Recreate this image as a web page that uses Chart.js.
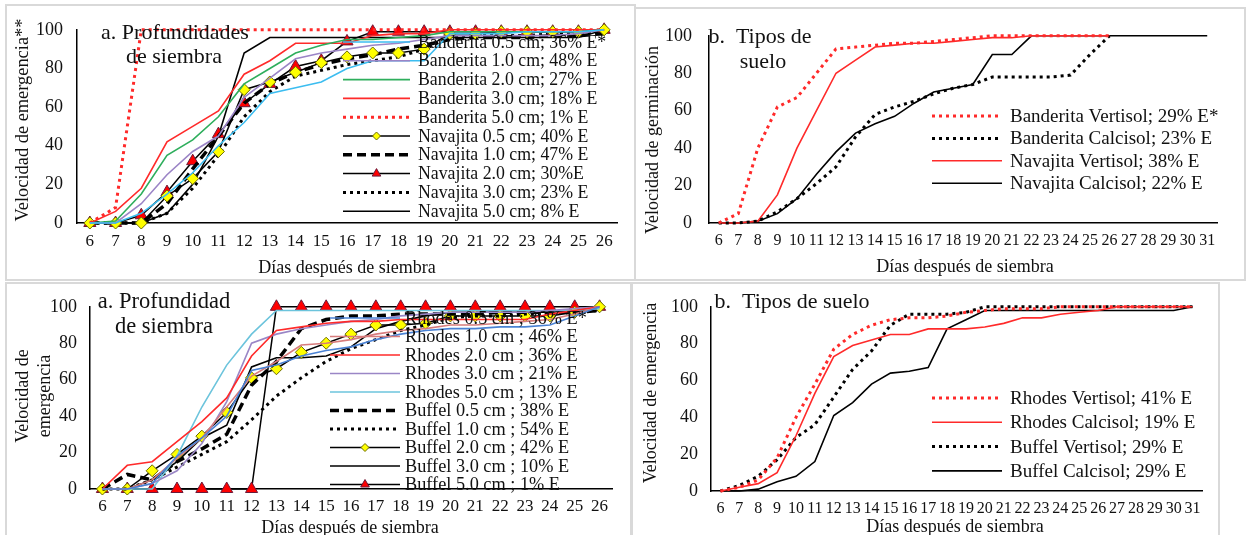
<!DOCTYPE html>
<html>
<head>
<meta charset="utf-8">
<script src="https://cdn.jsdelivr.net/npm/chart.js@4.4.0/dist/chart.umd.min.js"></script>
<style>
  body { margin: 0; background: #fff; width: 1246px; height: 535px; overflow: hidden; position: relative; }
  .panel { position: absolute; }
  .panel canvas { position: absolute; left: 0; top: 0; }
  .frame { position: absolute; border: 2px solid #d9d9d9; box-sizing: border-box; pointer-events: none; }
</style>
</head>
<body>
<div class="panel" style="left:6px;top:5px;width:628px;height:274px"><canvas id="c1" width="628" height="274"></canvas></div>
<div class="panel" style="left:636px;top:8px;width:608px;height:271px"><canvas id="c2" width="608" height="271"></canvas></div>
<div class="panel" style="left:6px;top:283px;width:624px;height:252px"><canvas id="c3" width="624" height="252"></canvas></div>
<div class="panel" style="left:632px;top:283px;width:586px;height:252px"><canvas id="c4" width="586" height="252"></canvas></div>
<div class="frame" style="left:5px;top:4px;width:631px;height:277px"></div>
<div class="frame" style="left:634px;top:7px;width:612px;height:274px"></div>
<div class="frame" style="left:5px;top:282px;width:627px;height:260px"></div>
<div class="frame" style="left:631px;top:282px;width:589px;height:260px"></div>
<script>
// --- days after sowing ---
const daysShort = ['6','7','8','9','10','11','12','13','14','15','16','17','18','19','20','21','22','23','24','25','26'];
const daysLong = ['6','7','8','9','10','11','12','13','14','15','16','17','18','19','20','21','22','23','24','25','26','27','28','29','30','31'];
const yTicks = [0, 20, 40, 60, 80, 100];

// --- a. Profundidades de siembra (Banderita / Navajita) ---
const banderita05 = [0,0,5,15,26,40,52,67,70,73,80,84,84,84,98,98,98,99,99,99,100];
const banderita10 = [0,0,10,25,37,45,65,75,85,88,90,92,93,95,97,97,97,97,97,98,100];
const banderita20 = [0,1,15,35,43,55,72,80,88,92,95,95,96,97,99,99,99,99,99,99,100];
const banderita30 = [0,6,18,42,50,58,77,84,93,93,93,97,98,98,100,100,100,100,100,100,100];
const banderita50 = [0,8,100,100,100,100,100,100,100,100,100,100,100,100,100,100,100,100,100,100,100];
const navajita05 = [0,0,0,14,23,37,69,73,78,83,86,88,88,90,98,98,99,99,99,99,100];
const navajita10 = [0,0,0,10,28,45,62,72,78,82,85,87,90,92,95,96,96,96,97,97,98];
const navajita20 = [0,0,4,16,32,46,62,72,81,84,94,99,99,99,99,99,99,99,99,99,100];
const navajita30 = [0,0,0,5,18,35,55,68,76,79,82,84,86,90,96,97,97,97,98,98,99];
const navajita50 = [0,0,0,5,20,45,88,96,96,96,96,96,96,96,96,96,96,96,96,96,100];

// --- b. Tipos de suelo (Banderita / Navajita) ---
const bandVertisol = [0,5,40,62,67,80,93,94,95,96,96,97,98,99,100,100,100,100,100,100,100,null,null,null,null,null];
const bandCalcisol = [0,0,1,6,13,21,30,46,58,62,65,69,72,74,78,78,78,78,79,90,100,null,null,null,null,null];
const navVertisol = [0,0,1,15,40,60,80,87,94,95,96,96,97,98,99,99,100,100,100,100,100,null,null,null,null,null];
const navCalcisol = [0,0,1,5,13,26,38,48,53,57,64,70,72,74,90,90,100,100,100,100,100,100,100,100,100,100];

// --- a. Profundidad de siembra (Rhodes / Buffel) ---
const rhodes05 = [0,0,3,18,28,40,65,68,73,76,78,82,85,87,88,88,89,89,90,95,100];
const rhodes10 = [0,0,5,17,28,45,62,70,79,80,82,85,87,88,90,90,91,92,93,96,100];
const rhodes20 = [0,13,15,26,37,50,73,87,89,91,92,92,93,93,93,93,93,93,96,98,100];
const rhodes30 = [0,0,3,10,25,48,80,85,88,90,92,93,95,96,97,97,97,97,98,99,100];
const rhodes50 = [0,0,0,18,45,68,85,98,98,98,98,98,98,98,98,98,98,98,98,98,99];
const buffel05 = [0,8,5,15,22,30,57,70,88,93,95,95,96,96,96,96,97,97,97,97,98];
const buffel10 = [0,0,5,12,19,26,38,51,61,70,77,82,87,90,94,95,95,96,96,97,98];
const buffel20 = [0,0,10,19,29,42,61,66,75,80,85,90,90,91,95,95,95,95,95,97,100];
const buffel30 = [0,0,5,15,28,35,67,72,72,73,78,88,92,95,97,97,97,97,97,98,100];
const buffel50 = [0,0,0,0,0,0,0,100,100,100,100,100,100,100,100,100,100,100,100,100,100];

// --- b. Tipos de suelo (Rhodes / Buffel) ---
const rhodesVertisol = [0,2,6,18,40,58,77,85,90,93,94,94,95,97,98,99,99,99,100,100,100,100,100,100,100,100];
const rhodesCalcisol = [0,2,4,10,30,53,73,79,82,85,85,88,88,88,89,91,94,94,96,97,98,100,100,100,100,100];
const buffelVertisol = [0,3,8,17,29,36,51,66,76,90,96,96,96,97,100,100,100,100,100,100,100,100,100,100,100,100];
const buffelCalcisol = [0,0,1,5,8,16,41,48,58,64,65,67,88,93,98,98,98,98,98,98,98,98,98,98,98,100];

const SERIF = '"Liberation Serif", "Times New Roman", serif';
const INK = '#111';

// line looks
const solid = (color, w) => ({ borderColor: color, borderWidth: w || 1.6, pointRadius: 0 });
const dotted = (color) => ({ borderColor: color, borderWidth: 3, borderDash: [3, 4], pointRadius: 0 });
const dashed = (color) => ({ borderColor: color, borderWidth: 3.5, borderDash: [9, 5], pointRadius: 0 });
const diamonds = () => ({ borderColor: '#000', borderWidth: 1.5, pointStyle: 'rectRot', pointRadius: 6,
    pointBackgroundColor: '#ffff00', pointBorderColor: '#6b6b00', pointBorderWidth: 1 });
const triangles = () => ({ borderColor: '#000', borderWidth: 1.5, pointStyle: 'triangle', pointRadius: 7,
    pointBackgroundColor: '#ff0000', pointBorderColor: '#6a1a3a', pointBorderWidth: 1 });

// legend + free text drawn on the canvas
const panelText = {
    id: 'panelText',
    afterDatasetsDraw(chart, args, opts) {
        const ctx = chart.ctx;
        ctx.save();
        // legend
        const lg = opts.legend;
        chart.data.datasets.forEach((ds, i) => {
            const y = lg.y + i * lg.step;
            ctx.save();
            ctx.strokeStyle = ds.borderColor;
            ctx.lineWidth = ds.borderWidth;
            ctx.setLineDash(ds.borderDash || []);
            ctx.beginPath();
            ctx.moveTo(lg.x1, y);
            ctx.lineTo(lg.x2, y);
            ctx.stroke();
            ctx.restore();
            if (ds.pointRadius) {
                ctx.save();
                ctx.fillStyle = ds.pointBackgroundColor;
                ctx.strokeStyle = ds.pointBorderColor;
                ctx.lineWidth = 1;
                Chart.helpers.drawPoint(ctx, { pointStyle: ds.pointStyle, radius: ds.pointRadius - 2, borderWidth: 1 },
                    (lg.x1 + lg.x2) / 2, y);
                ctx.restore();
            }
            ctx.fillStyle = INK;
            ctx.font = lg.size + 'px ' + SERIF;
            ctx.textAlign = 'left';
            ctx.textBaseline = 'middle';
            ctx.fillText(ds.label, lg.tx, y + 1);
        });
        // titles
        opts.texts.forEach(t => {
            ctx.save();
            ctx.translate(t.x, t.y);
            if (t.rot) ctx.rotate(t.rot);
            ctx.fillStyle = INK;
            ctx.font = t.size + 'px ' + SERIF;
            ctx.textAlign = 'center';
            ctx.textBaseline = 'middle';
            ctx.fillText(t.text, 0, 0);
            ctx.restore();
        });
        ctx.restore();
    }
};

function makeChart(id, labels, datasets, box, extra) {
    const canvas = document.getElementById(id);
    const W = canvas.width, H = canvas.height;
    return new Chart(canvas, {
        type: 'line',
        data: { labels: labels, datasets: datasets },
        options: {
            responsive: false,
            animation: false,
            devicePixelRatio: 1,
            layout: { padding: { left: 0, right: W - box.R, top: box.T, bottom: 0 } },
            elements: { line: { tension: 0, fill: false }, point: { hitRadius: 0 } },
            datasets: { line: { clip: false, spanGaps: false } },
            plugins: {
                legend: { display: false },
                tooltip: { enabled: false },
                panelText: extra
            },
            scales: {
                x: {
                    type: 'category',
                    offset: true,
                    grid: { display: false, drawTicks: false },
                    border: { display: true, color: '#000', width: 1.5 },
                    ticks: { autoSkip: false, maxRotation: 0, color: INK, padding: box.xPad,
                        font: { family: SERIF, size: box.xSize } },
                    afterFit: s => { s.height = H - box.B; }
                },
                y: {
                    min: 0, max: 100,
                    afterBuildTicks: s => { s.ticks = yTicks.map(v => ({ value: v })); },
                    grid: { display: false, drawTicks: false },
                    border: { display: true, color: '#000', width: 1.5 },
                    ticks: { color: INK, padding: box.yPad, font: { family: SERIF, size: 18 } },
                    afterFit: s => { s.width = box.L; }
                }
            }
        },
        plugins: [panelText]
    });
}

// a. Profundidades de siembra
makeChart('c1', daysShort, [
    Object.assign({ label: 'Banderita 0.5 cm; 36% E*', data: banderita05 }, solid('#3cbdf0')),
    Object.assign({ label: 'Banderita 1.0 cm; 48% E', data: banderita10 }, solid('#9b84c6')),
    Object.assign({ label: 'Banderita 2.0 cm; 27% E', data: banderita20 }, solid('#2eae5c')),
    Object.assign({ label: 'Banderita 3.0 cm; 18% E', data: banderita30 }, solid('#ff2a2a')),
    Object.assign({ label: 'Banderita 5.0 cm; 1% E', data: banderita50 }, dotted('#ff2a2a')),
    Object.assign({ label: 'Navajita 0.5 cm; 40% E', data: navajita05 }, diamonds()),
    Object.assign({ label: 'Navajita 1.0 cm; 47% E', data: navajita10 }, dashed('#000')),
    Object.assign({ label: 'Navajita 2.0 cm; 30%E', data: navajita20 }, triangles()),
    Object.assign({ label: 'Navajita 3.0 cm; 23% E', data: navajita30 }, dotted('#000')),
    Object.assign({ label: 'Navajita 5.0 cm; 8% E', data: navajita50 }, solid('#000'))
], { L: 71, R: 611, T: 9, B: 218, xPad: 8, yPad: 14, xSize: 17 }, {
    legend: { x1: 337, x2: 404, tx: 412, y: 37, step: 18.8, size: 17.8 },
    texts: [
        { text: 'a. Profundidades', x: 169, y: 28, size: 22 },
        { text: 'de siembra', x: 168, y: 52, size: 22 },
        { text: 'Velocidad de emergencia**', x: 17, y: 115, size: 18.4, rot: -Math.PI / 2 },
        { text: 'Días después de siembra', x: 341, y: 263, size: 18 }
    ]
});

// b. Tipos de suelo
makeChart('c2', daysLong, [
    Object.assign({ label: 'Banderita Vertisol; 29% E*', data: bandVertisol }, dotted('#ff2a2a')),
    Object.assign({ label: 'Banderita Calcisol; 23% E', data: bandCalcisol }, dotted('#000')),
    Object.assign({ label: 'Navajita Vertisol; 38% E', data: navVertisol }, solid('#ff2a2a')),
    Object.assign({ label: 'Navajita Calcisol; 22% E', data: navCalcisol }, solid('#000'))
], { L: 73, R: 581, T: 9, B: 215, xPad: 8, yPad: 17, xSize: 16 }, {
    legend: { x1: 296, x2: 366, tx: 374, y: 108, step: 22.4, size: 19 },
    texts: [
        { text: 'b.  Tipos de', x: 124, y: 29, size: 22 },
        { text: 'suelo', x: 127, y: 54, size: 22 },
        { text: 'Velocidad de germinación', x: 17, y: 132, size: 18, rot: -Math.PI / 2 },
        { text: 'Días después de siembra', x: 329, y: 259, size: 18 }
    ]
});

// a. Profundidad de siembra
makeChart('c3', daysShort, [
    Object.assign({ label: 'Rhodes 0.5 cm ; 36% E*', data: rhodes05 }, solid('#4a82d4')),
    Object.assign({ label: 'Rhodes 1.0 cm ; 46% E', data: rhodes10 }, solid('#d77c7c')),
    Object.assign({ label: 'Rhodes 2.0 cm ; 36% E', data: rhodes20 }, solid('#ff2a2a')),
    Object.assign({ label: 'Rhodes 3.0 cm ; 21% E', data: rhodes30 }, solid('#9a86c6')),
    Object.assign({ label: 'Rhodes 5.0 cm ; 13% E', data: rhodes50 }, solid('#6cc4dc')),
    Object.assign({ label: 'Buffel 0.5 cm ; 38% E', data: buffel05 }, dashed('#000')),
    Object.assign({ label: 'Buffel 1.0 cm ; 54% E', data: buffel10 }, dotted('#000')),
    Object.assign({ label: 'Buffel 2.0 cm ; 42% E', data: buffel20 }, diamonds()),
    Object.assign({ label: 'Buffel 3.0 cm ; 10% E', data: buffel30 }, solid('#000')),
    Object.assign({ label: 'Buffel 5.0 cm ; 1% E', data: buffel50 }, triangles())
], { L: 84, R: 606, T: 12, B: 206, xPad: 7, yPad: 13, xSize: 17 }, {
    legend: { x1: 324, x2: 394, tx: 399, y: 35, step: 18.5, size: 18.3 },
    texts: [
        { text: 'a. Profundidad', x: 158, y: 19, size: 22.5 },
        { text: 'de siembra', x: 158, y: 44, size: 22.5 },
        { text: 'Velocidad de', x: 17, y: 113, size: 18, rot: -Math.PI / 2 },
        { text: 'emergencia', x: 39, y: 113, size: 18, rot: -Math.PI / 2 },
        { text: 'Días después de siembra', x: 344, y: 245, size: 18 }
    ]
});

// b. Tipos de suelo
makeChart('c4', daysLong, [
    Object.assign({ label: 'Rhodes Vertisol; 41% E', data: rhodesVertisol }, dotted('#ff2a2a')),
    Object.assign({ label: 'Rhodes Calcisol; 19% E', data: rhodesCalcisol }, solid('#ff2a2a')),
    Object.assign({ label: 'Buffel Vertisol; 29% E', data: buffelVertisol }, dotted('#000')),
    Object.assign({ label: 'Buffel Calcisol; 29% E', data: buffelCalcisol }, solid('#000'))
], { L: 79, R: 570, T: 10, B: 208, xPad: 8, yPad: 13, xSize: 16 }, {
    legend: { x1: 300, x2: 370, tx: 378, y: 115, step: 24.3, size: 19 },
    texts: [
        { text: 'b.  Tipos de suelo', x: 160, y: 19, size: 22 },
        { text: 'Velocidad de emergencia', x: 19, y: 110, size: 18, rot: -Math.PI / 2 },
        { text: 'Días después de siembra', x: 323, y: 244, size: 18 }
    ]
});
</script>
</body>
</html>
